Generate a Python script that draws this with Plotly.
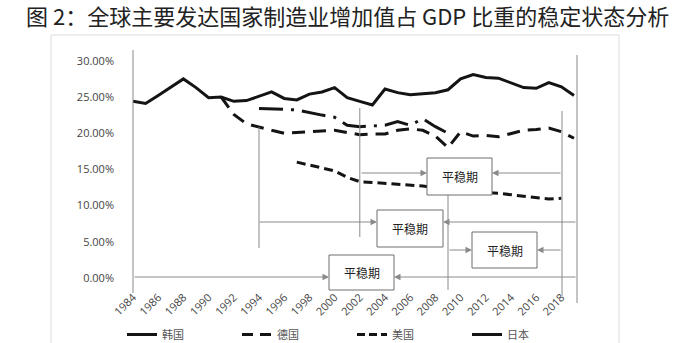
import plotly.graph_objects as go

# ---------------- data ----------------
korea_years = list(range(1984, 2020))
korea_vals = [24.4, 24.1, 25.2, 26.4, 27.5, 26.3, 24.9, 25.0, 24.4, 24.5,
              25.1, 25.7, 24.8, 24.6, 25.4, 25.7, 26.3, 24.9, 24.4, 23.9,
              26.1, 25.6, 25.3, 25.4, 25.6, 26.0, 27.5, 28.1, 27.7, 27.6,
              26.9, 26.3, 26.2, 27.0, 26.4, 25.2]

germany_years = list(range(1991, 2020))
germany_vals = [25.0, 22.6, 21.3, 20.8, 20.4, 20.0, 20.1, 20.2, 20.3, 20.4,
                20.1, 19.8, 19.9, 19.9, 20.4, 20.6, 20.4, 19.6, 18.0, 20.2,
                19.6, 19.7, 19.5, 19.9, 20.4, 20.5, 20.7, 20.2, 19.3]

usa_years = list(range(1997, 2019))
usa_vals = [16.0, 15.6, 15.3, 14.8, 13.9, 13.3, 13.2, 13.1, 13.0, 12.9,
            12.7, 12.5, 12.3, 12.1, 11.9, 11.8, 11.7, 11.5, 11.3, 11.1,
            10.9, 11.0]

japan_years = list(range(1994, 2010))
japan_vals = [23.4, 23.4, 23.3, 23.2, 22.8, 22.5, 22.2, 21.1, 20.9, 21.0,
              21.1, 21.6, 21.1, 22.0, 20.9, 20.0]

series_names = ["韩国", "德国", "美国", "日本"]
y_tick_vals = [0, 5, 10, 15, 20, 25, 30]
y_tick_text = ["0.00%", "5.00%", "10.00%", "15.00%", "20.00%", "25.00%", "30.00%"]
x_tick_vals = list(range(1984, 2019, 2))
box_label = "平稳期"
title_text = "图 2：全球主要发达国家制造业增加值占 GDP 比重的稳定状态分析"

# ---------------- figure ----------------
W, H = 690, 343
INK = "#141414"
GREY = "#8a8a8a"

fig = go.Figure()
fig.add_trace(go.Scatter(x=korea_years, y=korea_vals, mode="lines", showlegend=False,
                         line=dict(color=INK, width=3.0, shape="linear")))
fig.add_trace(go.Scatter(x=germany_years, y=germany_vals, mode="lines", showlegend=False,
                         line=dict(color=INK, width=3.0, dash="13px,8px")))
fig.add_trace(go.Scatter(x=usa_years, y=usa_vals, mode="lines", showlegend=False,
                         line=dict(color=INK, width=3.0, dash="9px,5px")))
fig.add_trace(go.Scatter(x=japan_years, y=japan_vals, mode="lines", showlegend=False,
                         line=dict(color=INK, width=3.0, dash="24px,8px,3px,8px")))

# legend-only entries (legend samples in the original are drawn plain)
legend_dash = ["solid", "11px,7px", "8px,4px", "solid"]
for nm, d in zip(series_names, legend_dash):
    fig.add_trace(go.Scatter(x=[None], y=[None], mode="lines", name=nm,
                             line=dict(color=INK, width=3.0, dash=d)))

def px2x(p):
    return 1984 + (p - 133) / 12.6

def py2y(p):
    return (278 - p) / 7.24

shapes = []
# outer panel border
shapes.append(dict(type="rect", xref="paper", yref="paper",
                   x0=51 / W, x1=619 / W, y0=1 - 350 / H, y1=1 - 35 / H,
                   line=dict(color="#dcdcdc", width=1), fillcolor="rgba(0,0,0,0)", layer="below"))
# vertical guide lines
vlines = [(1984, 50, 293), (1994, 127, 248), (2002, 108, 237), (2009, 195, 290),
          (px2x(562), 111, 296), (px2x(577), 55, 303)]
for xv, p0, p1 in vlines:
    shapes.append(dict(type="line", xref="x", yref="y", x0=xv, x1=xv,
                       y0=py2y(p0), y1=py2y(p1), line=dict(color=GREY, width=1), layer="above"))

# boxes (pixel extents)
boxes = [(427, 492, 158, 195), (377, 443, 210, 247), (472, 537, 232, 268), (329, 394, 255, 290)]
for bx0, bx1, by0, by1 in boxes:
    shapes.append(dict(type="rect", xref="x", yref="y", x0=px2x(bx0), x1=px2x(bx1),
                       y0=py2y(by1), y1=py2y(by0), line=dict(color="#6e6e6e", width=1),
                       fillcolor="white", layer="above"))

annotations = []
for bx0, bx1, by0, by1 in boxes:
    annotations.append(dict(x=px2x((bx0 + bx1) / 2), y=py2y((by0 + by1) / 2), xref="x", yref="y",
                            text=box_label, showarrow=False,
                            font=dict(family="Noto Sans CJK SC", size=12, color="#222")))

# arrows: (tail_x_px, head_x_px, y_px)
arrows = [(360, 427, 173), (562, 492, 173),
          (258, 377, 222), (577, 443, 222),
          (448, 472, 250), (562, 537, 250),
          (133, 329, 277), (577, 394, 277)]
for tx, hx, yp in arrows:
    annotations.append(dict(x=px2x(hx), y=py2y(yp), ax=px2x(tx), ay=py2y(yp),
                            xref="x", yref="y", axref="x", ayref="y", text="",
                            showarrow=True, arrowhead=2, arrowsize=1.3, arrowwidth=1,
                            arrowcolor=GREY, standoff=0, startstandoff=0))

annotations.append(dict(x=24 / W, y=1 - 15 / H, xref="paper", yref="paper", xanchor="left",
                        yanchor="middle", text=title_text, showarrow=False,
                        font=dict(family="Noto Sans CJK SC", size=22, color="#222")))

fig.update_layout(
    width=W, height=H,
    margin=dict(l=0, r=0, t=0, b=0, autoexpand=False),
    paper_bgcolor="white", plot_bgcolor="rgba(0,0,0,0)",
    shapes=shapes, annotations=annotations,
    xaxis=dict(domain=[120 / W, 590 / W], range=[px2x(120), px2x(590)],
               anchor="free", position=1 - 288 / H, automargin=False,
               tickvals=x_tick_vals, tickangle=-45, showgrid=False, zeroline=False,
               showline=False, ticks="",
               tickfont=dict(family="Open Sans", size=11, color="#444")),
    yaxis=dict(domain=[1 - 305 / H, 1 - 45 / H], range=[py2y(305), py2y(45)], automargin=False,
               tickvals=y_tick_vals, ticktext=y_tick_text, showgrid=False, zeroline=False,
               showline=False, ticks="", ticklabelstandoff=5,
               tickfont=dict(family="Open Sans", size=11, color="#444")),
    legend=dict(orientation="h", x=122 / W, y=1 - 320 / H, xanchor="left", yanchor="top",
                entrywidth=70, entrywidthmode="pixels",
                font=dict(family="Noto Sans CJK SC", size=11, color="#555"),
                bgcolor="rgba(0,0,0,0)"),
)

fig.write_html("out.html")
